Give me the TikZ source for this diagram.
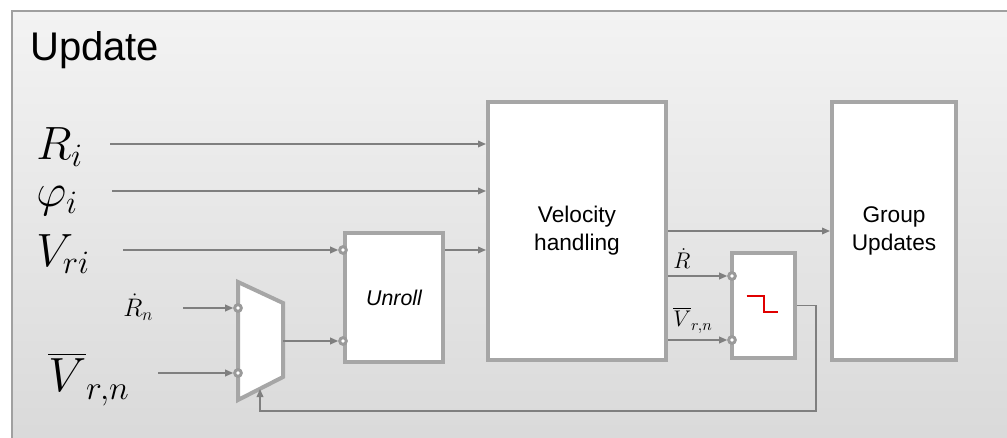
\RequirePackage{fix-cm}
\documentclass[tikz,border=0pt]{standalone}
\usepackage{exscale}
\usepackage[no-math]{fontspec}
\setmainfont{Liberation Sans}
\usepackage{xcolor}
\definecolor{rahmen}{HTML}{A0A0A0}
\definecolor{blockrand}{HTML}{A6A6A6}
\definecolor{portrand}{HTML}{9A9A9A}
\definecolor{leitung}{HTML}{7F7F7F}
\definecolor{bgtop}{HTML}{F3F3F3}
\definecolor{bgbot}{HTML}{D9D9D9}
\definecolor{stufrot}{HTML}{E00000}
\usetikzlibrary{positioning,calc,arrows.meta}

\begin{document}
\begin{tikzpicture}[x=0.75pt,y=-0.75pt,
  blk/.style={draw=blockrand,line width=3pt,fill=white,inner sep=0pt,align=center,font=\fontsize{17}{21}\selectfont},
  port/.style={circle,draw=portrand,line width=2.2pt,fill=white,minimum size=5pt,inner sep=0pt},
  sig/.style={leitung,line width=1pt,-{Triangle[length=6pt,width=5pt]}},
  lbl/.style={anchor=base west,inner sep=0pt}]
  \useasboundingbox (0,0) rectangle (1007,438);
  \clip (0,0) rectangle (1007,438);
  \fill[white] (0,0) rectangle (1007,438);
  \shade[top color=bgtop,bottom color=bgbot] (12,11) rectangle (1020,450);
  \draw[rahmen,line width=1.5pt] (12,450) -- (12,11) -- (1020,11);
  \node[lbl,font=\fontsize{30}{30}\selectfont] (titel) at (30,61) {Update};
  % Eingaenge
  \node[lbl,font=\fontsize{35}{35}\selectfont] (ri) at (36,160) {$R_i$};
  \node[lbl,font=\fontsize{35}{35}\selectfont] (phi) at (36,207) {$\varphi_i$};
  \node[lbl,font=\fontsize{35}{35}\selectfont] (vri) at (36,267) {$V_{ri}$};
  \node[lbl,font=\fontsize{19}{19}\selectfont] (rn) at (123,317) {$\dot{R}_n$};
  \node[lbl,font=\fontsize{36}{36}\selectfont] (vrn) at (48,392) {$\overline{V}_{r,n}$};
  \coordinate (ri0) at (110,144);
  \coordinate (phi0) at (112,191);
  \coordinate (vri0) at (123,250);
  \coordinate (rn0) at (183,308);
  \coordinate (vrn0) at (158,373);
  % Bloecke
  \node[blk,minimum width=133.5pt,minimum height=193.5pt] (vel) at (577,231) {Velocity\\handling};
  \node[blk,minimum width=93pt,minimum height=193.5pt] (grp) at (894,231) {Group\\Updates};
  \node[blk,minimum width=73.5pt,minimum height=96.75pt,font=\fontsize{16}{20}\selectfont\itshape] (unr) at (394,297.5) {Unroll};
  \node[blk,minimum width=47.25pt,minimum height=78.75pt] (stp) at (763.5,305.5) {};
  \draw[stufrot,line width=1.5pt] ($(stp.center)+(-17,-9)$) -- ++(17,0) -- ++(0,16) -- ++(14,0);
  % Multiplexer
  \draw[blockrand,line width=3pt,fill=white] (238,282) -- (283,303) -- (283,377) -- (238,400) -- cycle;
  \coordinate (mout) at (283,341);
  \coordinate (mbot) at (260,389);
  % Ports
  \node[port] (m1) at (238,308) {};
  \node[port] (m2) at (238,373) {};
  \node[port] (u1) at (unr.west |- vri0) {};
  \node[port] (u2) at (unr.west |- mout) {};
  \node[port] (s1) at (732,276) {};
  \node[port] (s2) at (732,340) {};
  \node[lbl,font=\fontsize{17}{17}\selectfont] (rdot) at (673,269) {$\dot{R}$};
  \node[lbl,font=\fontsize{17}{17}\selectfont] (vbar) at (673,327) {$\overline{V}_{r,n}$};
  % Verbindungen
  \foreach \c in {ri0,phi0} \draw[sig] (\c) -- (\c -| vel.west);
  \foreach \a/\b in {vri0/u1,rn0/m1,vrn0/m2,mout/u2} \draw[sig] (\a) -- (\b.west);
  \draw[sig] (unr.east |- u1) -- (vel.west |- u1);
  \draw[sig] (vel.east |- grp.west) -- (grp.west);
  \foreach \p in {s1,s2} \draw[sig] (vel.east |- \p) -- (\p.west);
  \coordinate (fb) at (816,411);
  \draw[sig] (stp.east) -| (fb) -| (mbot);
\end{tikzpicture}
\end{document}
